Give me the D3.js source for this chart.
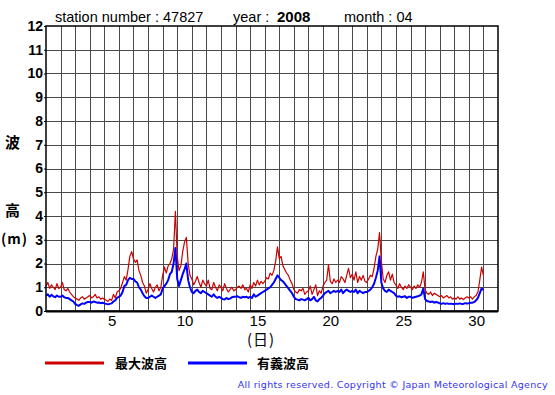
<!DOCTYPE html>
<html>
<head>
<meta charset="utf-8">
<script src="https://cdn.jsdelivr.net/npm/d3@7"></script>
<style>
	body { margin:0; background:#fff; }
	svg text { font-family: "Liberation Sans", Arial, sans-serif; }
	.jp { font-family: "Noto Sans CJK JP", sans-serif !important; }
</style>
</head>
<body>
<div id="chart"></div>
<script>
// header info
var station = '47827';
var year = '2008';
var month = '04';

// y ticks (m) and x tick days
var yTicks = [0,1,2,3,4,5,6,7,8,9,10,11,12];
var xTickDays = [5,10,15,20,25,30];

// 3-hourly values, 8 per day, April 1 .. 30, plus the last point
var maxWave = [
	1.05,1.2,0.95,1.1,1.0,0.9,1.15,0.95,
	1.0,1.2,0.9,0.85,0.95,0.8,0.7,0.6,
	0.55,0.5,0.45,0.55,0.6,0.5,0.55,0.6,
	0.65,0.55,0.6,0.7,0.55,0.6,0.5,0.55,
	0.5,0.45,0.4,0.5,0.45,0.7,0.55,0.8,
	0.85,0.95,1.2,1.45,1.3,1.75,2.3,2.5,
	2.2,2.05,2.15,1.7,1.5,1.2,1.05,0.75,
	0.9,1.15,0.95,0.8,1.0,1.1,0.85,1.0,
	1.5,1.85,1.6,1.9,2.0,2.2,2.6,4.2,
	2.3,1.7,1.9,2.5,2.9,3.1,2.0,1.5,
	1.35,1.1,1.25,1.45,1.2,1.0,1.3,1.15,
	1.05,1.3,0.95,0.9,1.2,1.0,0.85,1.1,
	1.0,0.85,1.15,0.95,0.8,0.9,1.0,0.85,
	0.9,1.0,1.05,0.95,1.1,0.9,0.95,0.8,
	1.1,0.95,1.2,1.05,1.3,1.1,1.25,1.15,
	1.25,1.4,1.35,1.6,1.5,1.7,2.1,2.7,
	2.2,2.3,1.9,1.75,1.6,1.5,1.3,1.15,
	0.9,0.8,0.75,0.9,0.85,0.95,0.7,0.8,
	0.85,1.05,0.7,0.9,1.1,0.65,0.85,0.75,
	1.05,1.2,1.3,1.95,1.25,1.15,1.35,1.2,
	1.3,1.2,1.45,1.35,1.2,1.5,1.8,1.4,
	1.55,1.3,1.65,1.2,1.45,1.3,1.5,1.25,
	1.2,1.35,1.5,1.45,1.8,2.3,2.6,3.3,
	2.1,1.35,1.2,1.5,1.65,1.3,1.55,1.2,
	1.1,0.95,1.15,1.0,0.9,1.05,0.95,1.1,
	1.0,0.9,1.05,0.95,1.1,1.0,1.2,1.65,
	0.9,0.75,0.7,0.8,0.65,0.75,0.7,0.65,
	0.6,0.65,0.55,0.6,0.65,0.55,0.6,0.5,
	0.55,0.5,0.6,0.5,0.55,0.48,0.55,0.6,
	0.55,0.6,0.5,0.6,0.65,0.8,1.3,1.85,
	1.5
];
var sigWave = [
	0.65,0.7,0.6,0.68,0.62,0.58,0.65,0.6,
	0.6,0.65,0.58,0.55,0.55,0.5,0.45,0.4,
	0.3,0.25,0.22,0.28,0.32,0.3,0.35,0.38,
	0.38,0.35,0.4,0.38,0.35,0.36,0.33,0.35,
	0.32,0.3,0.28,0.3,0.32,0.4,0.45,0.55,
	0.6,0.65,0.8,1.05,1.1,1.3,1.4,1.35,
	1.35,1.25,1.2,1.0,0.9,0.75,0.62,0.55,
	0.55,0.6,0.65,0.6,0.55,0.6,0.65,0.7,
	0.95,1.05,1.15,1.3,1.55,1.65,2.0,2.65,
	1.35,1.05,1.3,1.55,1.75,2.0,1.3,1.0,
	0.8,0.75,0.85,0.9,0.8,0.75,0.85,0.8,
	0.75,0.7,0.65,0.6,0.7,0.6,0.55,0.6,
	0.55,0.5,0.48,0.55,0.5,0.52,0.58,0.6,
	0.6,0.62,0.58,0.55,0.6,0.58,0.6,0.55,
	0.6,0.55,0.7,0.6,0.65,0.7,0.75,0.8,
	0.85,0.9,0.95,1.0,1.1,1.2,1.35,1.5,
	1.4,1.3,1.25,1.15,1.05,0.95,0.85,0.75,
	0.6,0.5,0.48,0.45,0.5,0.48,0.45,0.5,
	0.55,0.45,0.5,0.6,0.45,0.4,0.5,0.55,
	0.65,0.75,0.8,0.85,0.75,0.8,0.85,0.8,
	0.85,0.8,0.9,0.75,0.85,0.9,0.85,0.8,
	0.85,0.8,0.9,0.75,0.85,0.8,0.75,0.8,
	0.8,0.85,0.9,1.0,1.15,1.4,1.7,2.3,
	1.2,0.95,0.85,0.8,0.9,0.85,0.8,0.75,
	0.65,0.6,0.62,0.58,0.6,0.62,0.55,0.6,
	0.6,0.55,0.58,0.6,0.62,0.65,0.7,0.95,
	0.5,0.42,0.4,0.38,0.4,0.35,0.38,0.36,
	0.32,0.3,0.33,0.3,0.32,0.3,0.31,0.3,
	0.3,0.31,0.3,0.32,0.3,0.3,0.33,0.32,
	0.33,0.35,0.35,0.38,0.45,0.55,0.75,0.95,
	0.88
];

var legendNames = ['最大波高','有義波高'];
var colors = ['#cc0000','#0000ff'];

var W = 555, H = 395;
// plot box (note: "top" is taken by window.top)
var pLeft = 46, pRight = 498, pTop = 26, pBottom = 311;

var svg = d3.select('#chart').append('svg')
	.attr('width', W).attr('height', H);

// days counted from April 1 00:00, 31 columns
var x = d3.scaleLinear().domain([0, 31]).range([pLeft, pRight]);
var y = d3.scaleLinear().domain([0, 12]).range([pBottom, pTop]);

// grid
var grid = svg.append('g');
grid.selectAll('line.h')
	.data(yTicks.slice(1, -1))
	.enter().append('line')
	.attr('x1', pLeft).attr('x2', pRight)
	.attr('y1', function(d){ return Math.round(y(d)) + 0.5; })
	.attr('y2', function(d){ return Math.round(y(d)) + 0.5; })
	.attr('stroke', '#4a4a4a').attr('stroke-width', 1);
grid.selectAll('line.v')
	.data(d3.range(1, 31))
	.enter().append('line')
	.attr('y1', pTop).attr('y2', pBottom)
	.attr('x1', function(d){ return Math.round(x(d)) + 0.5; })
	.attr('x2', function(d){ return Math.round(x(d)) + 0.5; })
	.attr('stroke', '#4a4a4a').attr('stroke-width', 1);

// lines
var line = d3.line()
	.x(function(d, i){ return x(i / 8); })
	.y(function(d){ return y(d); });

svg.append('path').datum(maxWave)
	.attr('d', line).attr('fill', 'none')
	.attr('stroke', colors[0]).attr('stroke-width', 1.2)
	.attr('stroke-linejoin', 'round');
svg.append('path').datum(sigWave)
	.attr('d', line).attr('fill', 'none')
	.attr('stroke', colors[1]).attr('stroke-width', 2)
	.attr('stroke-linejoin', 'round');

// frame
svg.append('rect')
	.attr('x', pLeft).attr('y', pTop)
	.attr('width', pRight - pLeft).attr('height', pBottom - pTop)
	.attr('fill', 'none').attr('stroke', '#000').attr('stroke-width', 1.5);
svg.append('line')
	.attr('x1', pLeft).attr('x2', pRight)
	.attr('y1', pBottom + 0.5).attr('y2', pBottom + 0.5)
	.attr('stroke', '#000').attr('stroke-width', 2);

// y axis labels
var yAxis = d3.axisLeft(y).tickValues(yTicks).tickSize(2).tickPadding(1);
var ya = svg.append('g').attr('transform', 'translate(' + pLeft + ',0)').call(yAxis);
ya.select('.domain').remove();
ya.selectAll('line').attr('stroke', '#000');
ya.selectAll('text')
	.attr('fill', '#000')
	.style('font-size', '14px').style('font-weight', 'bold')
	.style('font-family', '"Liberation Sans", Arial, sans-serif');

// x axis labels (centred on each day)
var xAxis = d3.axisBottom(x)
	.tickValues(xTickDays.map(function(d){ return d - 0.5; }))
	.tickFormat(function(d){ return d + 0.5; })
	.tickSize(0).tickPadding(4);
var xa = svg.append('g').attr('transform', 'translate(0,' + pBottom + ')').call(xAxis);
xa.select('.domain').remove();
xa.selectAll('text')
	.attr('fill', '#000')
	.style('font-size', '15px')
	.style('font-family', '"Liberation Sans", Arial, sans-serif');

// titles
var head = svg.append('text').attr('x', 55).attr('y', 22)
	.style('font-size', '14.5px');
head.append('tspan').text('station number : ' + station);
head.append('tspan').attr('x', 233).text('year :');
head.append('tspan').attr('x', 277).style('font-weight', 'bold').style('font-size', '15px').text(year);
head.append('tspan').attr('x', 344).text('month : ' + month);

svg.append('text').attr('class', 'jp')
	.attr('x', 5).attr('y', 148)
	.style('font-size', '15px').style('font-weight', 'bold').text('波');
svg.append('text').attr('class', 'jp')
	.attr('x', 5).attr('y', 216)
	.style('font-size', '15px').style('font-weight', 'bold').text('高');
svg.append('text').attr('class', 'jp')
	.attr('x', 1).attr('y', 244)
	.style('font-size', '14px').style('font-weight', 'bold')
	.style('letter-spacing', '1px').text('(m)');
svg.append('text').attr('class', 'jp')
	.attr('x', 261).attr('y', 345).attr('text-anchor', 'middle')
	.style('font-size', '15px').style('letter-spacing', '1px').text('(日)');

// legend
var lg = svg.append('g');
lg.selectAll('line')
	.data(legendNames)
	.enter().append('line')
	.attr('x1', function(d, i){ return 45 + i * 143; })
	.attr('x2', function(d, i){ return 104 + i * 143; })
	.attr('y1', 363).attr('y2', 363)
	.attr('stroke', function(d, i){ return colors[i]; })
	.attr('stroke-width', 3);
lg.selectAll('text')
	.data(legendNames)
	.enter().append('text')
	.attr('class', 'jp')
	.attr('x', function(d, i){ return 115 + i * 142; })
	.attr('y', 368)
	.style('font-size', '13px').style('font-weight', 'bold')
	.text(function(d){ return d; });

svg.append('text')
	.attr('x', 548).attr('y', 388).attr('text-anchor', 'end')
	.attr('fill', '#3333ee')
	.style('font-size', '9.5px').style('letter-spacing', '0.3px')
	.style('font-family', '"DejaVu Sans", sans-serif')
	.text('All rights reserved. Copyright © Japan Meteorological Agency');
</script>
</body>
</html>
